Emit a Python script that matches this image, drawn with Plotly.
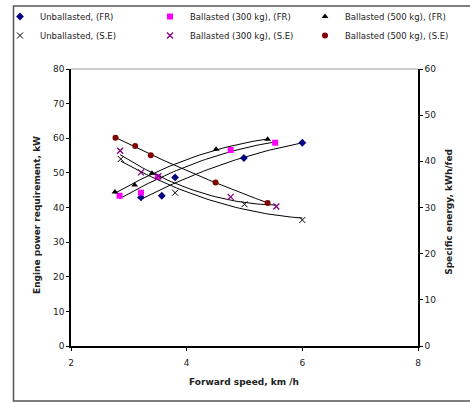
import numpy as np
import plotly.graph_objects as go

# ---- data ----
unb_fr_x = [3.21, 3.57, 3.80, 4.99, 6.00]
unb_fr_y = [42.9, 43.4, 48.7, 54.3, 58.7]

b300_fr_x = [2.84, 3.21, 3.50, 4.76, 5.53]
b300_fr_y = [43.4, 44.3, 48.8, 56.6, 58.7]

b500_fr_x = [2.76, 3.10, 3.40, 4.51, 5.40]
b500_fr_y = [44.5, 46.5, 49.9, 56.8, 59.7]

unb_se_x = [2.86, 3.80, 5.00, 6.00]
unb_se_y = [40.5, 33.2, 30.7, 27.3]

b300_se_x = [2.85, 3.21, 3.51, 4.76, 5.55]
b300_se_y = [42.3, 37.6, 36.8, 32.3, 30.2]

b500_se_x = [2.77, 3.11, 3.38, 4.50, 5.40]
b500_se_y = [45.1, 43.3, 41.3, 35.4, 31.0]

x_ticks = [2, 4, 6, 8]
yl_ticks = [0, 10, 20, 30, 40, 50, 60, 70, 80]
yr_ticks = [0, 10, 20, 30, 40, 50, 60]

x_title = "Forward speed, km /h"
yl_title = "Engine power requirement, kW"
yr_title = "Specific energy, kWh/fed"

FONT = "DejaVu Sans"
TXT = "#222222"

fig = go.Figure()

series = [
    ("Unballasted, (FR)", unb_fr_x, unb_fr_y, "y", "legend",
     dict(symbol="diamond", size=6, color="#000080")),
    ("Unballasted, (S.E)", unb_se_x, unb_se_y, "y2", "legend",
     dict(symbol="x-thin", size=6, color="#000000", line=dict(color="#000000", width=1))),
    ("Ballasted (300 kg), (FR)", b300_fr_x, b300_fr_y, "y", "legend2",
     dict(symbol="square", size=6, color="#FF00FF")),
    ("Ballasted (300 kg), (S.E)", b300_se_x, b300_se_y, "y2", "legend2",
     dict(symbol="x-thin", size=6, color="#800080", line=dict(color="#800080", width=1.3))),
    ("Ballasted (500 kg), (FR)", b500_fr_x, b500_fr_y, "y", "legend3",
     dict(symbol="triangle-up", size=6, color="#000000")),
    ("Ballasted (500 kg), (S.E)", b500_se_x, b500_se_y, "y2", "legend3",
     dict(symbol="circle", size=6, color="#800000")),
]

# trendlines (2nd-order fits of each series)
for name, xs, ys, ax, lg, mk in series:
    c = np.polyfit(xs, ys, 2)
    tx = np.linspace(min(xs), max(xs), 50)
    fig.add_trace(go.Scatter(x=tx, y=np.polyval(c, tx), mode="lines", yaxis=ax,
                             line=dict(color="#000000", width=1), showlegend=False,
                             hoverinfo="skip"))

for name, xs, ys, ax, lg, mk in series:
    fig.add_trace(go.Scatter(x=xs, y=ys, mode="markers", name=name, yaxis=ax,
                             marker=mk, legend=lg))

axis_common = dict(showgrid=False, zeroline=False, showline=True, linecolor="#000",
                   linewidth=1.5, ticks="outside", ticklen=3, tickcolor="#000",
                   tickfont=dict(family=FONT, size=9, color=TXT))

leg_common = dict(orientation="v", xanchor="left", xref="container", yref="container",
                  y=0.995, yanchor="top",
                  itemwidth=30, font=dict(family=FONT, size=8.5, color=TXT),
                  bgcolor="rgba(0,0,0,0)", tracegroupgap=0)

fig.update_layout(
    width=470, height=403,
    margin=dict(l=71, r=52, t=69, b=57, autoexpand=False),
    paper_bgcolor="white", plot_bgcolor="white",
    font=dict(family=FONT, size=9, color=TXT),
    xaxis=dict(range=[2, 8], tickvals=x_ticks, ticklabelstandoff=4, **axis_common),
    yaxis=dict(range=[0, 80], tickvals=yl_ticks, **axis_common),
    yaxis2=dict(range=[0, 60], tickvals=yr_ticks, overlaying="y", side="right", **axis_common),
    legend=dict(x=0.0, **leg_common),
    legend2=dict(x=150 / 470, **leg_common),
    legend3=dict(x=305 / 470, **leg_common),
    showlegend=True,
)

title_font = dict(family=FONT, size=9, color=TXT, weight="bold")
fig.add_annotation(text=x_title, xref="paper", yref="paper", x=0.4986, y=-0.13,
                   showarrow=False, font=title_font, xanchor="center", yanchor="middle")
fig.add_annotation(text=yl_title, xref="paper", yref="paper", x=-0.098, y=0.473,
                   showarrow=False, font=title_font, textangle=-90,
                   xanchor="center", yanchor="middle")
fig.add_annotation(text=yr_title, xref="paper", yref="paper", x=1.089, y=0.484,
                   showarrow=False, font=title_font, textangle=-90,
                   xanchor="center", yanchor="middle")

# top border of plot area
fig.add_shape(type="line", xref="paper", yref="paper", x0=0, x1=1, y0=1, y1=1,
              line=dict(color="#999999", width=1))
# outer chart frame
fig.add_shape(type="rect", xref="paper", yref="paper", x0=-0.1657, x1=1.3, y0=-0.1986, y1=1.2274,
              line=dict(color="#555555", width=1.5))

fig.write_html("out.html")
